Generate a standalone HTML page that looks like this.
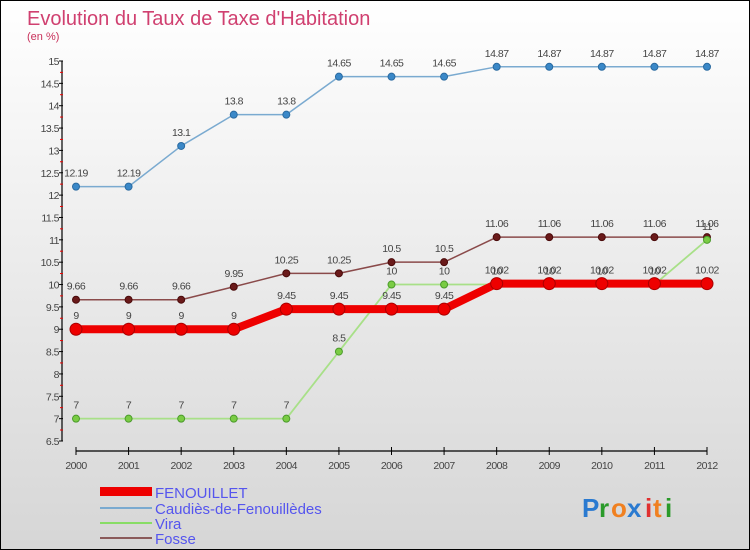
<!DOCTYPE html>
<html><head><meta charset="utf-8"><style>
html,body{margin:0;padding:0}
body{width:750px;height:550px;overflow:hidden;font-family:"Liberation Sans",sans-serif}
#wrap{position:relative;width:748px;height:548px;border:1px solid #000;background:linear-gradient(#ffffff,#d6d6d6)}
</style></head><body>
<div id="wrap">
<svg id="chart" width="748" height="548" style="position:absolute;left:0;top:0">
<text x="26" y="24" font-size="20" fill="#d04070">Evolution du Taux de Taxe d'Habitation</text>
<text x="26" y="39" font-size="11" fill="#c8305a">(en %)</text>
<g id="axes"></g>
<g id="series"></g>
<g font-size="15" fill="#5555ee">
<rect x="99" y="486" width="52" height="9" fill="#e00"/>
<text x="154" y="497">FENOUILLET</text>
<rect x="99" y="506" width="52" height="2" fill="#7aaad0"/>
<text x="154" y="513">Caudiès-de-Fenouillèdes</text>
<rect x="99" y="521" width="52" height="2" fill="#88dd66"/>
<text x="154" y="528">Vira</text>
<rect x="99" y="536" width="52" height="2" fill="#8a5a5a"/>
<text x="154" y="543">Fosse</text>
</g>
<g font-size="26" font-weight="bold">
<text x="581" y="516" fill="#2a7ad0">P</text><text x="598" y="516" fill="#2a9a2a">r</text><text x="610" y="516" fill="#f08020">o</text><text x="626" y="516" fill="#2a7ad0">x</text><text x="644" y="516" fill="#e03030">i</text><text x="652" y="516" fill="#f08020">t</text><text x="664" y="516" fill="#2a9a2a">i</text>
</g>
</svg>
</div>
<script>
const years=[2000,2001,2002,2003,2004,2005,2006,2007,2008,2009,2010,2011,2012];
const fenouillet=[9,9,9,9,9.45,9.45,9.45,9.45,10.02,10.02,10.02,10.02,10.02];
const caudies=[12.19,12.19,13.1,13.8,13.8,14.65,14.65,14.65,14.87,14.87,14.87,14.87,14.87];
const vira=[7,7,7,7,7,8.5,10,10,10,10,10,10,11];
const fosse=[9.66,9.66,9.66,9.95,10.25,10.25,10.5,10.5,11.06,11.06,11.06,11.06,11.06];
const yTicks=[6.5,7,7.5,8,8.5,9,9.5,10,10.5,11,11.5,12,12.5,13,13.5,14,14.5,15];
const NS="http://www.w3.org/2000/svg";
const xS=y=>75+(y-2000)*(706-75)/12;
const yS=v=>60+(15-v)*(380/8.5);
function mk(tag,attrs,parent){const e=document.createElementNS(NS,tag);for(const k in attrs)e.setAttribute(k,attrs[k]);parent.appendChild(e);return e;}
const ax=document.getElementById('axes');
const yaxis=mk('line',{x1:61,y1:yS(15),x2:61,y2:yS(6.5),stroke:'#000','stroke-width':1.2},ax);


yTicks.forEach((t,i)=>{
  mk('line',{x1:58,x2:62,y1:yS(t),y2:yS(t),stroke:'#000'},ax);
  if(i<yTicks.length-1) mk('line',{x1:59,x2:62,y1:yS(t)-11,y2:yS(t)-11,stroke:'#e00'},ax);
  const tx=mk('text',{x:58,y:yS(t)+4,'text-anchor':'end','font-size':10.5,fill:'#444','letter-spacing':-0.5},ax);
  tx.textContent=t;
  
  
});
const xaxis=mk('line',{x1:xS(2000),x2:xS(2012),y1:450,y2:450,stroke:'#000','stroke-width':1.2},ax);


years.forEach(y=>{
  mk('line',{x1:xS(y),x2:xS(y),y1:446,y2:454,stroke:'#000'},ax);
  const tx=mk('text',{x:xS(y),y:468,'text-anchor':'middle','font-size':10.5,fill:'#444','letter-spacing':-0.5},ax);
  tx.textContent=y;
  
  
});
const sg=document.getElementById('series');
function series(name,vals,color,w,dotFill,dotStroke,r){
  const g=mk('g',{},sg);
  
  
  mk('polyline',{points:vals.map((v,i)=>xS(years[i])+','+yS(v)).join(' '),fill:'none',stroke:color,'stroke-width':w,'stroke-linejoin':'round'},g);
  vals.forEach((v,i)=>{
    const c=mk('circle',{cx:xS(years[i]),cy:yS(v),r:r,fill:dotFill,stroke:dotStroke,'stroke-width':1},g);
    
    
    const t=mk('text',{x:xS(years[i]),y:yS(v)-10,'text-anchor':'middle','font-size':10.5,fill:'#444','letter-spacing':-0.5},g);
    t.textContent=v;
    
    
  });
}
series('caudies',caudies,'#7aaad0',1.5,'#3a88c8','#2a6aa0',3.5);
series('fosse',fosse,'#8a4a4a',1.5,'#6a1a1a','#4a0a0a',3.5);
series('vira',vira,'#a8e088',1.8,'#7acc44','#4a9a2a',3.5);
series('fenouillet',fenouillet,'#ee0000',8,'#ee0000','#aa0000',6);
</script>
</body></html>
